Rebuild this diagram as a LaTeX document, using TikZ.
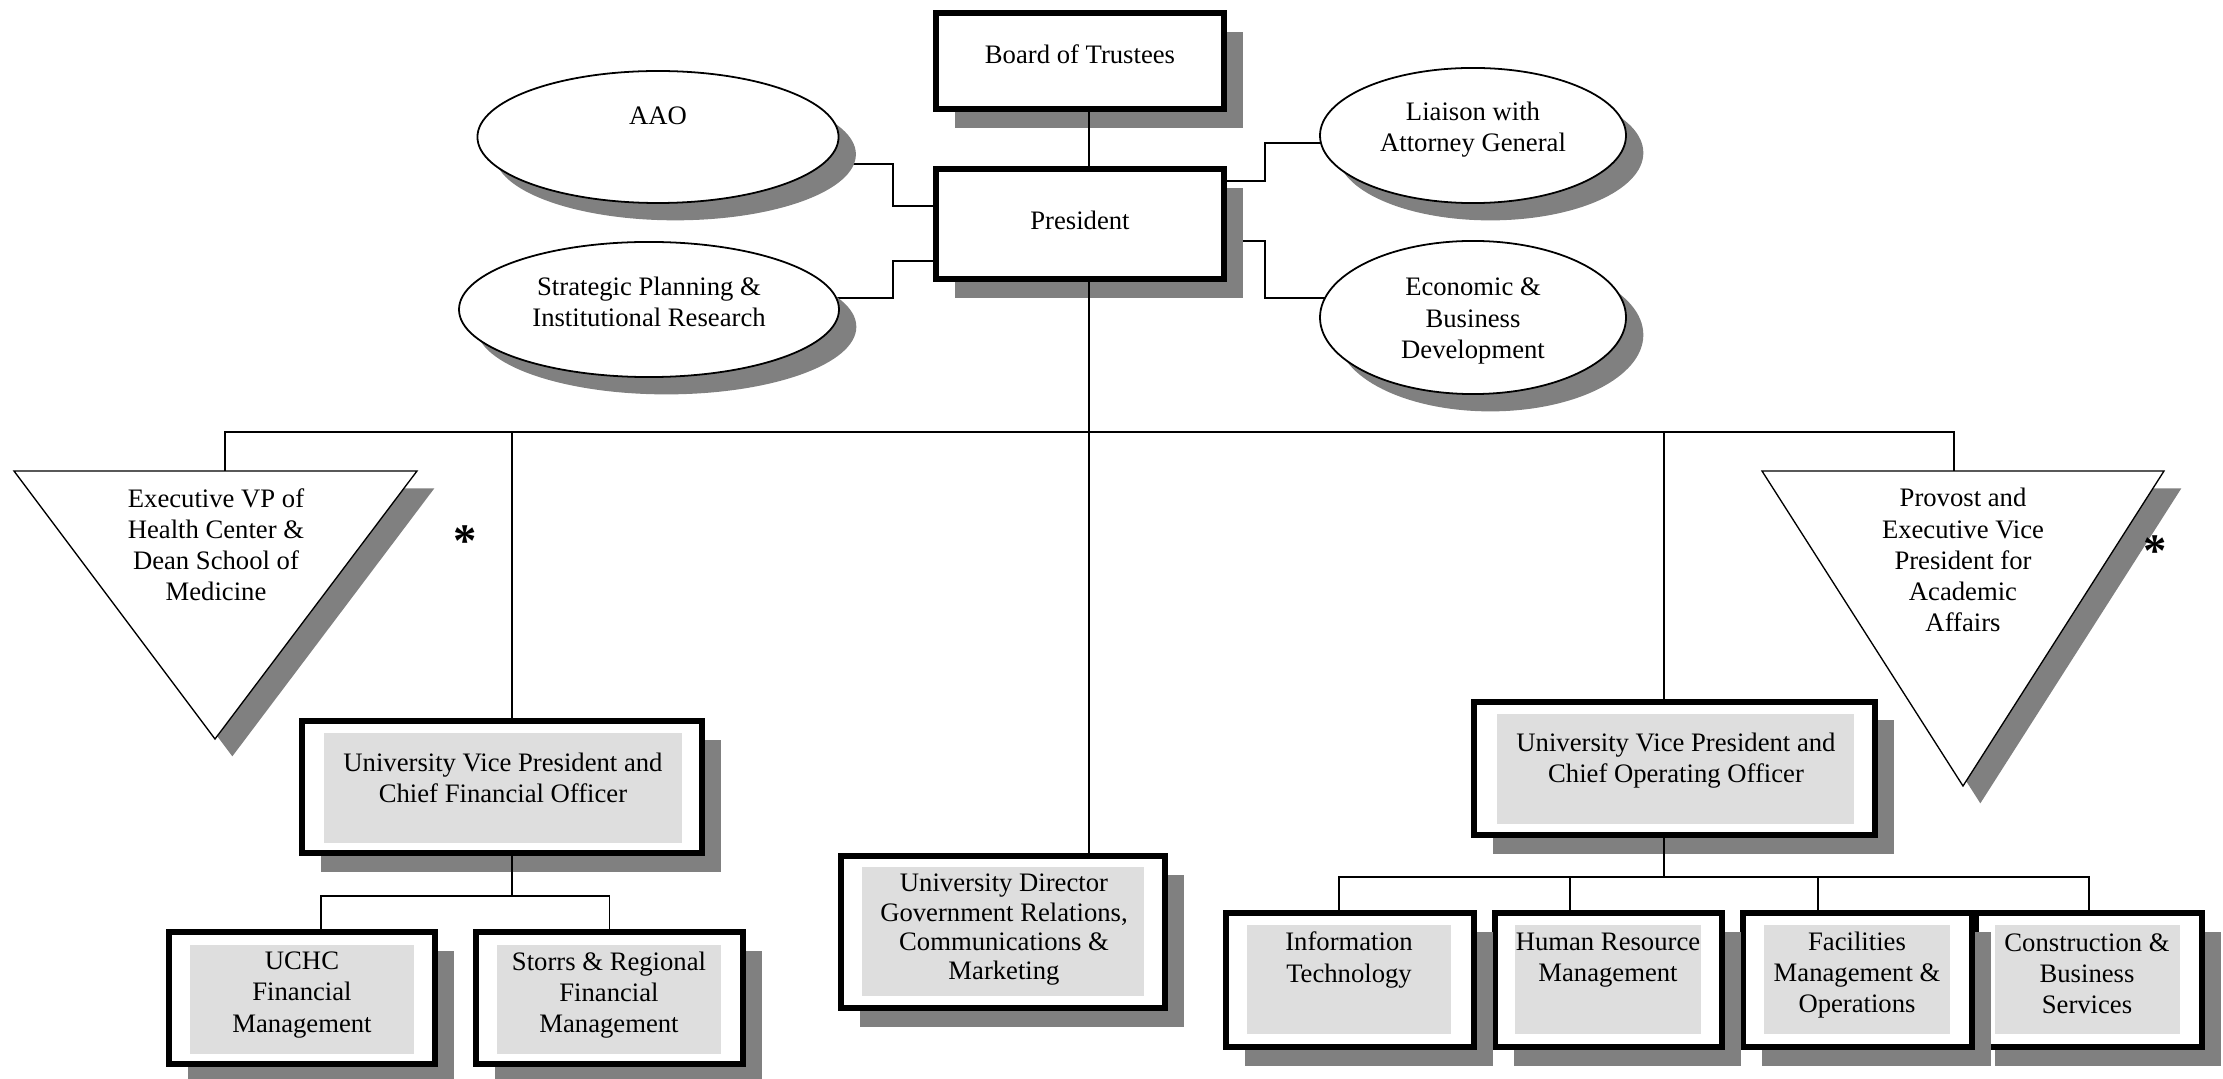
\documentclass[tikz,border=0pt]{standalone}
\usepackage{fontspec}
\setmainfont{Liberation Serif}
\usetikzlibrary{positioning, shapes.geometric, shadows, backgrounds}

\definecolor{shadowgray}{gray}{0.5}
\definecolor{panelgray}{gray}{0.87}

\tikzset{
  officebox/.style={draw, line width=2.55pt, fill=white, inner sep=0pt,
    drop shadow={shadow xshift=8.4pt, shadow yshift=-8.4pt, fill=shadowgray, opacity=1}},
  panel/.style={fill=panelgray, inner sep=0pt},
  staffoval/.style={ellipse, draw, line width=0.8pt, fill=white, inner sep=0pt,
    drop shadow={shadow xshift=7.8pt, shadow yshift=-7.8pt, fill=shadowgray, opacity=1}},
  vptri/.style={draw, line width=0.6pt, fill=white,
    drop shadow={shadow xshift=7.8pt, shadow yshift=-7.8pt, fill=shadowgray, opacity=1}},
  link/.style={line width=0.6pt},
  lbl/.style={align=center, inner sep=0pt},
  starmark/.style={inner sep=0pt, font=\fontsize{21}{21}\selectfont\bfseries},
}

\begin{document}
\begin{tikzpicture}[x=0.45pt, y=-0.45pt, font=\fontsize{12}{14}\selectfont]
\useasboundingbox (0,0) rectangle (2223,1079);

% Board and President
\node[officebox, minimum width=129.7pt, minimum height=43.3pt] (board) at (1080,61) {};
\node[lbl] (boardtext) at (1080,54) {Board of Trustees};
\node[officebox, minimum width=129.7pt, minimum height=49.6pt] (pres) at (1080,224) {};
\node[lbl] (prestext) at (1080,220) {President};

% Staff offices
\node[staffoval, minimum width=162.5pt, minimum height=59.4pt] (aao) at (658,137) {};
\node[lbl] (aaotext) at (658,116) {AAO};
\node[staffoval, minimum width=171pt, minimum height=60.8pt] (plan) at (649,309.5) {};
\node[lbl] (plantext) at (649,302) {Strategic Planning \&\\Institutional Research};
\node[staffoval, minimum width=137.7pt, minimum height=60.8pt] (liaison) at (1473,135.5) {};
\node[lbl] (liaisontext) at (1473,130) {Liaison with\\Attorney General};
\node[staffoval, minimum width=137.7pt, minimum height=68.9pt] (econ) at (1473,317.5) {};
\node[lbl] (econtext) at (1473,321) {Economic \&\\Business\\Development};

% Executive vice presidents
\draw[vptri] (14,471) -- (417,471) -- (215,739) -- cycle;
\coordinate (evp) at (225,471);
\node[lbl] (evptext) at (216,545) {Executive VP of\\Health Center \&\\Dean School of\\Medicine};
\node[starmark] (evpstar) at (465,541) {*};

\draw[vptri] (1762,471) -- (2164,471) -- (1963,786) -- cycle;
\coordinate (provost) at (1954,471);
\node[lbl] (provosttext) at (1963,560) {Provost and\\Executive Vice\\President for\\Academic\\Affairs};
\node[starmark] (provoststar) at (2155,551) {*};

% CFO branch
\node[officebox, minimum width=180.1pt, minimum height=59.5pt] (cfo) at (502,787) {};
\node[panel, minimum width=161.1pt, minimum height=49.5pt] (cfopanel) at (503,788) {};
\node[lbl] (cfotext) at (503,778) {University Vice President and\\Chief Financial Officer};

\node[officebox, minimum width=120.3pt, minimum height=59.5pt] (storrs) at (609.5,998) {};
\node[panel, minimum width=100.8pt, minimum height=49pt] (storrspanel) at (609,999.5) {};
\node[lbl] (storrstext) at (609,995) {Storrs \& Regional\\Financial\\Management};
\node[officebox, minimum width=119.8pt, minimum height=59.5pt] (uchc) at (302,998) {};
\node[panel, minimum width=100.8pt, minimum height=49pt] (uchcpanel) at (302,999.5) {};
\node[lbl] (uchctext) at (302,995) {UCHC\\Financial\\Management};

% University Director
\node[officebox, minimum width=145.9pt, minimum height=68.5pt] (udir) at (1003,932) {};
\node[panel, minimum width=126.9pt, minimum height=58pt] (udirpanel) at (1003,931.5) {};
\node[lbl, font=\fontsize{12}{13.2}\selectfont] (udirtext) at (1004,930)
  {University Director\\Government Relations,\\Communications \&\\Marketing};

% COO branch
\node[officebox, minimum width=180.6pt, minimum height=60pt] (coo) at (1674.5,768.5) {};
\node[panel, minimum width=160.6pt, minimum height=49.5pt] (coopanel) at (1675.5,769) {};
\node[lbl] (cootext) at (1676,761) {University Vice President and\\Chief Operating Officer};

\node[officebox, minimum width=101.8pt, minimum height=60.4pt] (cbs) at (2089,980) {};
\node[panel, minimum width=83.2pt, minimum height=49pt] (cbspanel) at (2087.5,979.5) {};
\node[lbl] (cbstext) at (2087,974) {Construction \&\\Business\\Services};
\node[officebox, minimum width=103.2pt, minimum height=60.4pt] (fac) at (1857.5,980) {};
\node[panel, minimum width=83.7pt, minimum height=49pt] (facpanel) at (1857,979.5) {};
\node[lbl] (factext) at (1857,975) {Facilities\\Management \&\\Operations};
\node[officebox, minimum width=102.3pt, minimum height=60.4pt] (hrm) at (1608.5,980) {};
\node[panel, minimum width=83.7pt, minimum height=49pt] (hrmpanel) at (1608,979.5) {};
\node[lbl] (hrmtext) at (1608,960) {Human Resource\\Management};
\node[officebox, minimum width=111.7pt, minimum height=60.4pt] (itm) at (1350,980) {};
\node[panel, minimum width=91.8pt, minimum height=49pt] (itmpanel) at (1349,979.5) {};
\node[lbl] (itmtext) at (1349,960) {Information\\Technology};

% Connectors
\coordinate (trunk) at (1089,432);
\draw[link] (board.south -| trunk) -- (pres.north -| trunk);
\draw[link] (pres.south -| trunk) -- (udir.north -| trunk);
\draw[link] (evp) |- (trunk);
\draw[link] (provost) |- (trunk);
\draw[link] ([xshift=4.5pt]cfo.north) |- (trunk);
\draw[link] ([xshift=-4.7pt]coo.north) |- (trunk);

\draw[link] ([xshift=4.5pt]cfo.south) -- ++(0,40) coordinate (cfobranch);
\draw[link] ([xshift=8.6pt]uchc.north) |- (cfobranch);
\draw[link] (storrs.north) |- (cfobranch);

\draw[link] ([xshift=-4.7pt]coo.south) -- ++(0,39) coordinate (coobranch);
\draw[link] ([xshift=-4.9pt]itm.north) |- (coobranch);
\draw[link] ([xshift=-17.3pt]hrm.north) |- (coobranch);
\draw[link] ([xshift=-17.8pt]fac.north) |- (coobranch);
\draw[link] (cbs.north) |- (coobranch);

\begin{scope}[on background layer]
\draw[link] ([yshift=8.1pt]pres.west) -- ++(-40,0) |- ([yshift=-12.2pt]aao.center);
\draw[link] ([yshift=-16.6pt]pres.west) -- ++(-40,0) |- ([yshift=5.2pt]plan.center);
\draw[link] ([yshift=19.3pt]pres.east) -- ++(38,0) |- ([yshift=-3.4pt]liaison.center);
\draw[link] ([yshift=-7.6pt]pres.east) -- ++(38,0) |- ([yshift=8.8pt]econ.center);
\end{scope}

\end{tikzpicture}
\end{document}
